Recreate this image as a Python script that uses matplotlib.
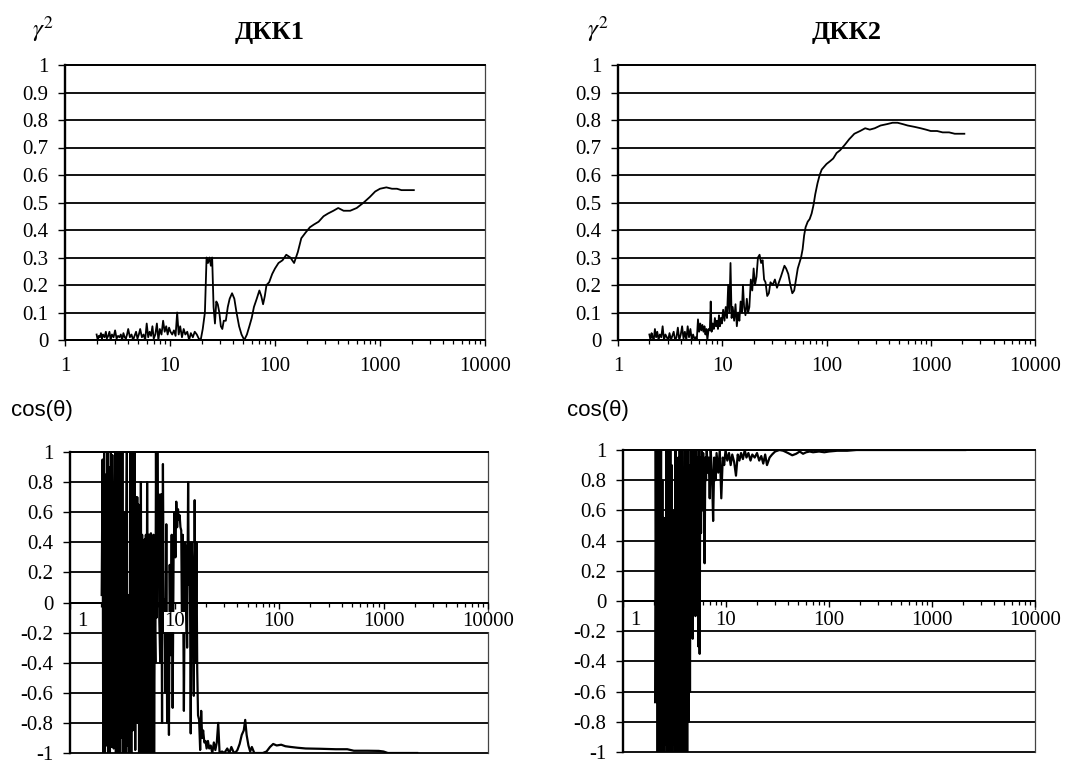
import matplotlib
matplotlib.use('Agg')
import matplotlib.pyplot as plt
import matplotlib.transforms as mtransforms
from matplotlib.ticker import FixedLocator, FixedFormatter, LogLocator, NullFormatter

plt.rcParams['font.family'] = ['Liberation Serif', 'DejaVu Serif']
plt.rcParams['mathtext.fontset'] = 'stix'

# ---------------- data ----------------
titles = ['ДКК1', 'ДКК2']
gamma_label = 'γ²'
cos_label = 'cos(θ)'

x_tick_values = [1, 10, 100, 1000, 10000]
x_tick_labels = ['1', '10', '100', '1000', '10000']
gamma_ticks = [0, 0.1, 0.2, 0.3, 0.4, 0.5, 0.6, 0.7, 0.8, 0.9, 1]
gamma_tick_labels = ['0', '0.1', '0.2', '0.3', '0.4', '0.5', '0.6', '0.7', '0.8', '0.9', '1']
cos_ticks = [-1, -0.8, -0.6, -0.4, -0.2, 0, 0.2, 0.4, 0.6, 0.8, 1]
cos_tick_labels = ['-1', '-0.8', '-0.6', '-0.4', '-0.2', '0', '0.2', '0.4', '0.6', '0.8', '1']

# ДКК1, coherence
dkk1_freq = [
    2.0, 2.05, 2.1, 2.15, 2.2, 2.25, 2.3, 2.38, 2.45, 2.5,
    2.58, 2.65, 2.72, 2.8, 2.9, 3.0, 3.1, 3.2, 3.3, 3.4,
    3.5, 3.6, 3.7, 3.8, 3.9, 4.0, 4.15, 4.3, 4.45, 4.6,
    4.75, 4.9, 5.05, 5.2, 5.4, 5.6, 5.8, 6.0, 6.2, 6.4,
    6.6, 6.8, 7.0, 7.25, 7.5, 7.75, 8.0, 8.3, 8.6, 8.9,
    9.2, 9.5, 9.8, 10.1, 10.5, 10.9, 11.3, 11.7, 12.1, 12.5,
    13.0, 13.5, 14.0, 14.6, 15.2, 15.8, 16.5, 17.2, 18.0, 18.8,
    19.6, 20.5, 21.5, 22.3, 23.0, 23.8, 24.5, 25.2, 26.0, 26.8,
    27.6, 28.5, 29.5, 30.5, 31.5, 32.5, 34.0, 35.5, 37.0, 39.0,
    41.0, 43.0, 45.5, 48.0, 51.0, 54.0, 57.0, 60.0, 63.0, 67.0,
    71.0, 74.0, 77.0, 80.0, 83.0, 88.0, 94.0, 100, 108, 118,
    128, 140, 152, 165, 178, 195, 215, 235, 260, 290,
    320, 360, 400, 450, 520, 600, 700, 800, 900, 1000,
    1150, 1300, 1450, 1600, 1800, 2100]
dkk1_gamma2 = [
    0.02, 0.0, 0.015, 0.01, 0.025, 0.005, 0.02, 0.01, 0.03, 0.005,
    0.015, 0.03, 0.0, 0.02, 0.01, 0.035, 0.005, 0.015, 0.01, 0.02,
    0.0, 0.025, 0.01, 0.005, 0.02, 0.04, 0.01, 0.02, 0.0, 0.015,
    0.03, 0.005, 0.02, 0.04, 0.01, 0.02, 0.0, 0.06, 0.01, 0.03,
    0.015, 0.05, 0.005, 0.02, 0.06, 0.0, 0.04, 0.02, 0.07, 0.03,
    0.05, 0.02, 0.045, 0.03, 0.02, 0.035, 0.015, 0.1, 0.02, 0.05,
    0.01, 0.04, 0.02, 0.03, 0.0, 0.025, 0.01, 0.03, 0.02, 0.005,
    0.0, 0.04, 0.1, 0.3, 0.28, 0.3, 0.27, 0.3, 0.12, 0.06,
    0.14, 0.13, 0.1, 0.05, 0.04, 0.07, 0.07, 0.12, 0.15, 0.17,
    0.15, 0.1, 0.05, 0.02, 0.0, 0.02, 0.05, 0.08, 0.12, 0.15,
    0.18, 0.16, 0.13, 0.16, 0.2, 0.21, 0.24, 0.26, 0.28, 0.29,
    0.31, 0.3, 0.28, 0.32, 0.37, 0.39, 0.41, 0.42, 0.43, 0.45,
    0.46, 0.47, 0.48, 0.47, 0.47, 0.48, 0.5, 0.52, 0.54, 0.55,
    0.555, 0.55, 0.55, 0.545, 0.545, 0.545]

# ДКК2, coherence
dkk2_freq = [
    2.0, 2.05, 2.1, 2.15, 2.2, 2.26, 2.32, 2.38, 2.45, 2.52,
    2.6, 2.68, 2.76, 2.85, 2.94, 3.03, 3.12, 3.22, 3.32, 3.42,
    3.53, 3.64, 3.75, 3.87, 4.0, 4.12, 4.25, 4.38, 4.52, 4.66,
    4.8, 4.95, 5.1, 5.25, 5.4, 5.55, 5.7, 5.85, 6.0, 6.15,
    6.3, 6.45, 6.6, 6.75, 6.9, 7.05, 7.2, 7.4, 7.6, 7.75,
    7.9, 8.1, 8.3, 8.5, 8.7, 8.9, 9.1, 9.3, 9.5, 9.7,
    9.9, 10.2, 10.5, 10.8, 11.1, 11.4, 11.7, 12.0, 12.3, 12.6,
    13.0, 13.4, 13.8, 14.2, 14.6, 15.0, 15.4, 15.8, 16.2, 16.7,
    17.2, 17.7, 18.2, 18.8, 19.4, 20.0, 20.6, 21.3, 22.0, 22.8,
    23.6, 24.4, 25.2, 26.0, 27.0, 28.0, 29.0, 30.5, 32.0, 33.5,
    35.0, 36.5, 38.0, 39.5, 41.0, 43.0, 45.0, 47.0, 49.0, 51.0,
    53.0, 55.0, 57.0, 59.0, 61.0, 63.0, 66.0, 69.0, 72.0, 75.0,
    78.0, 82.0, 86.0, 90.0, 95.0, 100, 108, 116, 125, 135,
    150, 165, 185, 210, 235, 260, 290, 330, 380, 430,
    480, 540, 600, 700, 800, 900, 1000, 1150, 1300, 1500,
    1700, 2100]
dkk2_gamma2 = [
    0.02, 0.0, 0.025, 0.01, 0.0, 0.04, 0.01, 0.03, 0.0, 0.02,
    0.01, 0.05, 0.0, 0.02, 0.01, 0.0, 0.025, 0.0, 0.015, 0.03,
    0.0, 0.01, 0.045, 0.0, 0.02, 0.05, 0.005, 0.03, 0.0, 0.05,
    0.01, 0.04, 0.0, 0.02, 0.005, 0.01, 0.0, 0.075, 0.03, 0.06,
    0.035, 0.055, 0.03, 0.05, 0.02, 0.04, 0.0, 0.04, 0.035, 0.14,
    0.03, 0.06, 0.04, 0.08, 0.05, 0.07, 0.04, 0.09, 0.05, 0.08,
    0.06, 0.11, 0.07, 0.12, 0.08, 0.2, 0.1, 0.28, 0.08, 0.12,
    0.07, 0.13, 0.05, 0.1, 0.07, 0.14, 0.1, 0.2, 0.12, 0.09,
    0.15, 0.1, 0.12, 0.22, 0.18, 0.26, 0.2, 0.23, 0.3, 0.31,
    0.28, 0.29, 0.22, 0.21, 0.16, 0.17, 0.21, 0.2, 0.22, 0.19,
    0.21, 0.23, 0.25, 0.27, 0.26, 0.24, 0.2, 0.17, 0.18, 0.22,
    0.26, 0.28, 0.3, 0.33, 0.38, 0.41, 0.43, 0.44, 0.46, 0.49,
    0.53, 0.57, 0.6, 0.62, 0.63, 0.64, 0.65, 0.66, 0.68, 0.69,
    0.71, 0.73, 0.75, 0.76, 0.77, 0.765, 0.77, 0.78, 0.785, 0.79,
    0.79, 0.785, 0.78, 0.775, 0.77, 0.765, 0.76, 0.76, 0.755, 0.755,
    0.75, 0.75]

# ДКК1, cos(theta)
dkk1_cos_freq = [
    2.01, 2.05, 2.08, 2.12, 2.16, 2.20, 2.24, 2.28, 2.32, 2.37,
    2.41, 2.46, 2.50, 2.54, 2.58, 2.62, 2.66, 2.71, 2.75, 2.79,
    2.84, 2.88, 2.93, 2.97, 3.02, 3.07, 3.12, 3.17, 3.22, 3.26,
    3.31, 3.36, 3.41, 3.46, 3.50, 3.55, 3.60, 3.65, 3.70, 3.75,
    3.80, 3.86, 3.92, 3.98, 4.03, 4.09, 4.15, 4.21, 4.27, 4.33,
    4.40, 4.46, 4.52, 4.58, 4.64, 4.70, 4.77, 4.83, 4.90, 4.97,
    5.04, 5.11, 5.18, 5.25, 5.32, 5.40, 5.47, 5.55, 5.62, 5.70,
    5.78, 5.86, 5.95, 6.03, 6.12, 6.20, 6.29, 6.38, 6.47, 6.56,
    6.65, 6.75, 6.85, 6.95, 7.05, 7.15, 7.3, 7.45, 7.6, 7.75,
    7.9, 8.05, 8.2, 8.35, 8.5, 8.7, 8.85, 9.0, 9.2, 9.4,
    9.6, 9.8, 10.0, 10.2, 10.4, 10.6, 10.8, 11.0, 11.2, 11.4,
    11.6, 11.8, 12.0, 12.3, 12.6, 12.9, 13.2, 13.5, 13.7, 14.0,
    14.3, 14.6, 15.0, 15.3, 15.6, 15.9, 16.2, 16.5, 16.8, 17.2,
    17.6, 18.0, 18.4, 18.8, 19.3, 19.8, 20.3, 20.9, 21.5, 22.2,
    23.0, 23.8, 24.6, 25.4, 26.2, 27.0, 28.5, 30.0, 32.0, 33.5,
    35.0, 36.5, 38.0, 40.0, 42.0, 44.0, 46.0, 47.5, 49.0, 51.0,
    53.0, 55.0, 58.0, 62.0, 70.0, 76.0, 82.0, 88.0, 95.0, 105,
    115, 130, 150, 180, 250, 350, 450, 520, 700, 900,
    1000, 1100, 2100]
dkk1_cos = [
    0.05, 0.95, -1.0, 1.0, -1.0, 0.85, -0.95, 1.0, -1.0, 0.9,
    -1.0, 1.0, -0.96, 0.98, 0.15, -0.97, 0.16, 1.0, -1.0, 1.0,
    -1.0, 0.98, -1.0, 1.0, -1.0, 1.0, -0.9, 1.0, -1.0, 0.55,
    -1.0, 0.6, -1.0, 0.55, 1.0, -0.95, 0.05, -1.0, 0.05, -0.9,
    1.0, -1.0, 1.0, -0.85, 1.0, -0.8, 1.0, -0.98, 0.7, -0.3,
    0.7, -0.8, 0.65, -1.0, 0.4, -0.55, 0.8, -1.0, 0.45, -0.5,
    0.4, -1.0, 0.42, -0.52, 0.45, -1.0, 0.8, -0.5, 0.45, -1.0,
    0.45, -0.6, 0.46, -1.0, 0.4, -0.7, 0.45, -1.0, -0.1, -0.4,
    1.0, -0.1, 1.0, 0.3, 0.72, -0.1, -0.4, 0.72, -0.8, 0.92,
    -0.2, 0.02, -0.6, 0.52, -0.8, -0.1, -0.88, 0.25, -0.35, 0.45,
    -0.7, 0.3, 0.6, 0.3, 0.67, 0.5, 0.62, 0.55, 0.58, 0.5,
    0.48, -0.2, 0.45, -0.72, 0.4, 0.35, -0.3, 0.8, 0.12, 0.4,
    -0.87, 0.4, 0.1, -0.62, 0.68, -0.4, 0.4, -0.45, -0.75, -0.78,
    -0.98, -0.72, -0.9, -0.85, -0.93, -0.92, -0.97, -0.92, -0.97, -0.95,
    -1.0, -0.93, -0.98, -0.93, -0.8, -1.0, -0.99, -1.0, -0.97, -1.0,
    -0.96, -0.99, -1.0, -0.98, -0.94, -0.88, -0.85, -0.78, -0.88, -0.95,
    -0.99, -0.96, -1.0, -1.0, -1.0, -0.99, -0.96, -0.94, -0.95, -0.945,
    -0.955, -0.96, -0.965, -0.97, -0.972, -0.975, -0.975, -0.985, -0.985, -0.986,
    -0.99, -1.0, -1.0]

# ДКК2, cos(theta)
dkk2_cos_freq = [
    2.05, 2.08, 2.11, 2.14, 2.17, 2.20, 2.24, 2.27, 2.30, 2.34,
    2.37, 2.41, 2.45, 2.48, 2.52, 2.56, 2.60, 2.64, 2.68, 2.72,
    2.76, 2.80, 2.84, 2.88, 2.92, 2.97, 3.01, 3.06, 3.10, 3.15,
    3.20, 3.24, 3.29, 3.34, 3.39, 3.44, 3.49, 3.55, 3.60, 3.66,
    3.71, 3.77, 3.83, 3.89, 3.95, 4.01, 4.07, 4.13, 4.20, 4.26,
    4.33, 4.40, 4.47, 4.54, 4.61, 4.68, 4.75, 4.83, 4.90, 4.98,
    5.05, 5.13, 5.21, 5.29, 5.37, 5.46, 5.55, 5.63, 5.72, 5.81,
    5.90, 6.0, 6.1, 6.2, 6.3, 6.4, 6.5, 6.65, 6.8, 6.95,
    7.1, 7.3, 7.5, 7.7, 7.9, 8.1, 8.4, 8.7, 9.0, 9.3,
    9.6, 9.9, 10.3, 10.7, 11.1, 11.5, 12.0, 12.5, 13.0, 13.5,
    14.0, 14.6, 15.2, 15.8, 16.5, 17.3, 18.0, 19.0, 20.0, 21.0,
    22.0, 23.0, 24.0, 25.0, 26.5, 28.0, 30.0, 33.0, 36.0, 40.0,
    44.0, 48.0, 52.0, 56.0, 60.0, 65.0, 70.0, 80.0, 90.0, 100,
    120, 150, 185, 2100]
dkk2_cos = [
    -0.67, 1.0, -0.1, 1.0, -1.0, 0.95, -1.0, 1.0, -0.9, 1.0,
    -1.0, 0.8, -1.0, 0.55, -1.0, 0.55, -0.95, 1.0, -1.0, 0.2,
    -1.0, 1.0, -0.97, 1.0, -1.0, 0.9, -1.0, 0.55, -0.95, 0.6,
    -1.0, 1.0, -1.0, 0.5, -1.0, 0.95, -0.98, 1.0, -1.0, 0.6,
    -1.0, 1.0, -1.0, 0.2, -0.28, 1.0, -1.0, 0.95, -1.0, 1.0,
    -0.8, 0.9, -0.6, 1.0, 0.1, 0.95, -0.25, 1.0, 0.2, 0.98,
    -0.1, 1.0, 0.3, 0.95, -0.3, 1.0, -0.35, 0.95, 0.45, 1.0,
    0.6, 0.98, 0.8, 0.25, 0.95, 0.8, 1.0, 0.85, 0.95, 0.68,
    1.0, 0.86, 0.53, 0.95, 0.8, 0.98, 0.85, 1.0, 0.68, 0.95,
    0.9, 1.0, 0.93, 0.98, 0.9, 0.97, 0.92, 0.83, 0.97, 0.93,
    0.98, 0.94, 1.0, 0.95, 0.98, 0.93, 0.97, 0.95, 0.98, 0.93,
    0.96, 0.91, 0.97, 0.9, 0.95, 0.97, 0.99, 1.0, 0.995, 0.98,
    0.965, 0.975, 0.99, 0.975, 0.985, 0.99, 0.985, 0.99, 0.985, 0.99,
    0.995, 0.995, 1.0, 1.0]

# ---------------- figure ----------------
W, H = 1085, 760
fig = plt.figure(figsize=(W / 100, H / 100), dpi=100)


def px_rect(left, top, right, bottom):
    return [left / W, 1 - bottom / H, (right - left) / W, (bottom - top) / H]


ax1 = fig.add_axes(px_rect(65, 65, 485, 340))
ax2 = fig.add_axes(px_rect(618, 65, 1035, 340))
ax3 = fig.add_axes(px_rect(70, 452, 488, 753))
ax4 = fig.add_axes(px_rect(623, 450, 1035, 752))

TICK_FS = 15


def style_axes(ax, yticks, ylabels, cos_axis):
    ax.set_xscale('log')
    ax.set_xlim(1, 10000)
    ax.set_ylim(yticks[0], yticks[-1])
    ax.xaxis.set_major_locator(FixedLocator(x_tick_values))
    ax.xaxis.set_major_formatter(FixedFormatter(x_tick_labels))
    ax.xaxis.set_minor_locator(LogLocator(base=10, subs=(2, 3, 4, 5, 6, 7, 8, 9), numticks=20))
    ax.xaxis.set_minor_formatter(NullFormatter())
    ax.yaxis.set_major_locator(FixedLocator(yticks))
    ax.yaxis.set_major_formatter(FixedFormatter(ylabels))
    ax.set_axisbelow(True)
    ax.yaxis.grid(True, color='black', linewidth=1.3)
    ax.xaxis.grid(False)
    for gl in ax.get_ygridlines():
        gl.set_clip_on(False)
    ax.spines['left'].set_linewidth(1.7)
    ax.spines['left'].set_color('black')
    ax.spines['right'].set_linewidth(0.9)
    ax.spines['right'].set_color('#444444')
    ax.spines['top'].set_linewidth(1.3)
    ax.spines['top'].set_color('black')
    ax.spines['bottom'].set_linewidth(1.4)
    ax.spines['bottom'].set_color('black')
    ax.tick_params(axis='y', which='major', direction='out', length=5, width=1.0,
                   labelsize=TICK_FS, pad=7)
    if cos_axis:
        ax.spines['bottom'].set_position(('data', 0))
        ax.tick_params(axis='x', which='major', direction='out', length=4, width=1.0,
                       labelsize=TICK_FS, pad=3)
        ax.tick_params(axis='x', which='minor', direction='out', length=3, width=0.9)
        # x tick labels drawn above the data (the x axis carries no gridlines)
        ax.xaxis.set_zorder(4)
    else:
        ax.tick_params(axis='x', which='major', direction='out', length=4, width=1.0,
                       labelsize=TICK_FS, pad=8)
        ax.tick_params(axis='x', which='minor', direction='out', length=3, width=0.9)
    ax.set_facecolor('white')


style_axes(ax1, gamma_ticks, gamma_tick_labels, False)
style_axes(ax2, gamma_ticks, gamma_tick_labels, False)
style_axes(ax3, cos_ticks, cos_tick_labels, True)
style_axes(ax4, cos_ticks, cos_tick_labels, True)

ax1.plot(dkk1_freq, dkk1_gamma2, color='black', linewidth=1.3, zorder=3)
ax2.plot(dkk2_freq, dkk2_gamma2, color='black', linewidth=1.3, zorder=3)
ax3.plot(dkk1_cos_freq, dkk1_cos, color='black', linewidth=1.6, zorder=3)
ax4.plot(dkk2_cos_freq, dkk2_cos, color='black', linewidth=1.6, zorder=3)

# x tick labels on the cos axes: white background, first label nudged right
for ax in (ax3, ax4):
    ticks = ax.xaxis.get_major_ticks()
    for t in ticks:
        t.label1.set_bbox(dict(facecolor='white', edgecolor='none', pad=0.3))
    shift = mtransforms.ScaledTranslation(12 / 100, 0, fig.dpi_scale_trans)
    ticks[0].label1.set_transform(ticks[0].label1.get_transform() + shift)

# titles and axis captions
fig.text(270 / W, 1 - 32 / H, titles[0], ha='center', va='center',
         fontsize=19, fontweight='bold', family='Liberation Serif')
fig.text(847 / W, 1 - 32 / H, titles[1], ha='center', va='center',
         fontsize=19, fontweight='bold', family='Liberation Serif')
fig.text(43 / W, 1 - 29 / H, r'$\gamma^2$', ha='center', va='center', fontsize=18)
fig.text(598 / W, 1 - 29 / H, r'$\gamma^2$', ha='center', va='center', fontsize=18)
fig.text(42 / W, 1 - 411 / H, cos_label, ha='center', va='center',
         fontsize=16, family=['Liberation Sans', 'DejaVu Sans'])
fig.text(598 / W, 1 - 411 / H, cos_label, ha='center', va='center',
         fontsize=16, family=['Liberation Sans', 'DejaVu Sans'])

fig.savefig('out.png', dpi=100, facecolor='white')
